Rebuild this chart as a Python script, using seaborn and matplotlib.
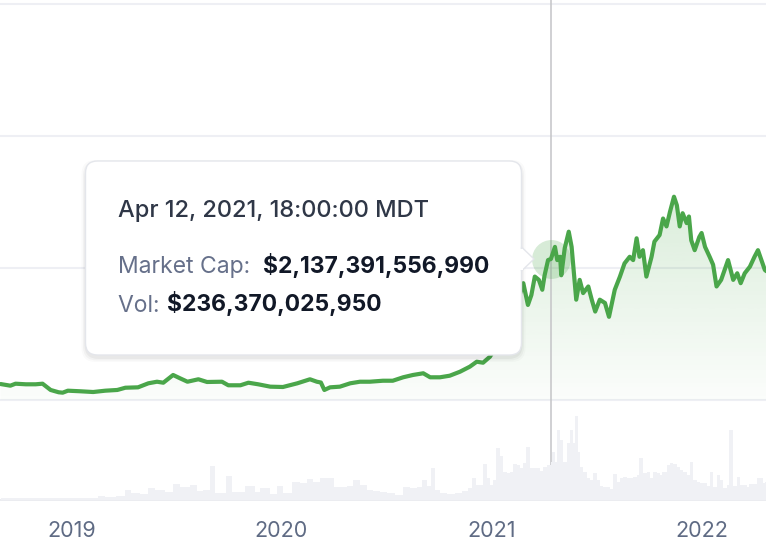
import numpy as np
import pandas as pd
import matplotlib
matplotlib.use("Agg")
import matplotlib.pyplot as plt
import matplotlib.dates as mdates
from matplotlib.patches import FancyBboxPatch, Polygon, Rectangle
import seaborn as sns

# total market cap, trillions of USD
cap_dates = [
    "2018-08-31", "2018-09-17", "2018-09-26", "2018-10-14", "2018-10-31", "2018-11-12", "2018-11-26", "2018-12-10", "2018-12-17", "2018-12-26",
    "2019-01-17", "2019-02-08", "2019-03-01", "2019-03-22", "2019-04-05", "2019-04-27", "2019-05-15", "2019-05-30", "2019-06-10", "2019-06-27",
    "2019-07-09", "2019-07-22", "2019-08-10", "2019-08-25", "2019-09-20", "2019-10-01", "2019-10-22", "2019-11-05", "2019-11-22", "2019-12-13",
    "2020-01-04", "2020-01-29", "2020-02-20", "2020-03-03", "2020-03-10", "2020-03-16", "2020-03-26", "2020-04-12", "2020-04-30", "2020-05-17",
    "2020-06-03", "2020-06-26", "2020-07-13", "2020-07-31", "2020-08-17", "2020-09-04", "2020-09-16", "2020-10-03", "2020-10-20", "2020-11-07",
    "2020-11-24", "2020-12-06", "2020-12-17", "2020-12-29", "2021-01-10", "2021-01-24", "2021-02-05", "2021-02-16", "2021-02-25", "2021-03-05",
    "2021-03-11", "2021-03-17", "2021-03-24", "2021-03-30", "2021-04-03", "2021-04-09", "2021-04-14", "2021-04-21", "2021-04-25", "2021-04-30",
    "2021-05-02", "2021-05-08", "2021-05-15", "2021-05-20", "2021-05-24", "2021-05-28", "2021-06-03", "2021-06-09", "2021-06-18", "2021-06-24",
    "2021-06-30", "2021-07-08", "2021-07-17", "2021-07-24", "2021-08-03", "2021-08-12", "2021-08-20", "2021-08-29", "2021-09-04", "2021-09-10",
    "2021-09-15", "2021-09-21", "2021-09-27", "2021-10-06", "2021-10-11", "2021-10-20", "2021-10-26", "2021-11-01", "2021-11-07", "2021-11-14",
    "2021-11-19", "2021-11-24", "2021-11-29", "2021-12-06", "2021-12-10", "2021-12-14", "2021-12-20", "2021-12-28", "2022-01-01", "2022-01-07",
    "2022-01-15", "2022-01-21", "2022-01-27", "2022-02-04", "2022-02-16", "2022-02-25", "2022-03-04", "2022-03-10", "2022-03-17", "2022-03-26",
    "2022-04-03", "2022-04-09", "2022-04-15", "2022-04-21", "2022-04-24",
]
cap_values = [
    0.242, 0.217, 0.247, 0.238, 0.238, 0.247, 0.152, 0.117, 0.111, 0.141,
    0.132, 0.121, 0.141, 0.152, 0.186, 0.192, 0.253, 0.277, 0.262, 0.379,
    0.329, 0.277, 0.314, 0.273, 0.277, 0.223, 0.223, 0.262, 0.238, 0.202,
    0.197, 0.253, 0.314, 0.277, 0.265, 0.152, 0.192, 0.202, 0.253, 0.277,
    0.277, 0.292, 0.292, 0.344, 0.379, 0.405, 0.344, 0.344, 0.368, 0.429,
    0.505, 0.580, 0.565, 0.656, 0.833, 1.06, 1.33, 1.52, 1.77, 1.44,
    1.59, 1.87, 1.82, 1.67, 1.89, 2.12, 2.137, 2.32, 2.12, 2.17,
    1.89, 2.30, 2.55, 2.32, 1.92, 1.52, 1.82, 1.62, 1.72, 1.52,
    1.34, 1.52, 1.47, 1.26, 1.67, 1.87, 2.07, 2.17, 2.12, 2.45,
    2.17, 2.27, 1.87, 2.17, 2.40, 2.50, 2.75, 2.63, 2.85, 3.08,
    2.95, 2.63, 2.83, 2.68, 2.78, 2.42, 2.27, 2.47, 2.53, 2.32,
    2.17, 2.05, 1.72, 1.82, 2.12, 1.82, 1.92, 1.77, 1.92, 2.02,
    2.17, 2.27, 2.12, 1.97, 1.95,
]

# 24h volume, billions of USD
vol_dates = [
    "2018-08-31", "2018-09-14", "2018-09-28", "2018-10-12", "2018-10-26", "2018-11-09", "2018-11-21", "2018-12-05", "2018-12-17", "2018-12-27",
    "2019-01-10", "2019-01-24", "2019-02-07", "2019-02-17", "2019-03-01", "2019-03-19", "2019-04-05", "2019-04-14", "2019-05-01", "2019-05-15",
    "2019-05-27", "2019-06-13", "2019-06-27", "2019-07-09", "2019-07-27", "2019-08-08", "2019-08-18", "2019-08-31", "2019-09-08", "2019-09-27",
    "2019-10-08", "2019-10-30", "2019-11-17", "2019-11-25", "2019-12-13", "2019-12-25", "2020-01-04", "2020-01-20", "2020-02-03", "2020-02-15",
    "2020-02-25", "2020-03-09", "2020-03-21", "2020-04-01", "2020-04-12", "2020-04-24", "2020-05-05", "2020-05-17", "2020-05-29", "2020-06-09",
    "2020-06-21", "2020-07-03", "2020-07-17", "2020-07-31", "2020-08-12", "2020-08-24", "2020-09-02", "2020-09-11", "2020-09-18", "2020-09-25",
    "2020-10-03", "2020-10-15", "2020-10-29", "2020-11-10", "2020-11-21", "2020-11-28", "2020-12-05", "2020-12-12", "2020-12-17", "2020-12-24",
    "2020-12-29", "2021-01-03", "2021-01-08", "2021-01-15", "2021-01-20", "2021-01-27", "2021-02-02", "2021-02-07", "2021-02-14", "2021-02-19",
    "2021-02-24", "2021-03-01", "2021-03-08", "2021-03-13", "2021-03-20", "2021-03-25", "2021-03-31", "2021-04-07", "2021-04-14", "2021-04-16",
    "2021-04-21", "2021-04-24", "2021-04-29", "2021-05-05", "2021-05-12", "2021-05-17", "2021-05-22", "2021-05-26", "2021-05-31", "2021-06-03",
    "2021-06-08", "2021-06-15", "2021-06-21", "2021-06-26", "2021-07-03", "2021-07-08", "2021-07-13", "2021-07-20", "2021-07-25", "2021-07-31",
    "2021-08-06", "2021-08-12", "2021-08-17", "2021-08-24", "2021-08-29", "2021-09-03", "2021-09-10", "2021-09-14", "2021-09-21", "2021-09-28",
    "2021-10-03", "2021-10-08", "2021-10-15", "2021-10-20", "2021-10-25", "2021-11-01", "2021-11-07", "2021-11-12", "2021-11-19", "2021-11-24",
    "2021-11-29", "2021-12-06", "2021-12-11", "2021-12-16", "2021-12-23", "2021-12-29", "2022-01-03", "2022-01-10", "2022-01-15", "2022-01-20",
    "2022-01-27", "2022-02-02", "2022-02-07", "2022-02-14", "2022-02-17", "2022-02-24", "2022-03-03", "2022-03-08", "2022-03-13", "2022-03-20",
    "2022-03-25", "2022-03-31", "2022-04-07", "2022-04-12", "2022-04-17", "2022-04-22",
]
vol_values = [
    12, 12, 15, 12, 12, 12, 14, 12, 12, 14,
    12, 12, 15, 25, 20, 27, 62, 43, 37, 74,
    62, 51, 99, 81, 93, 58, 62, 211, 43, 149,
    51, 87, 51, 73, 35, 87, 45, 113, 104, 132,
    113, 136, 135, 82, 79, 87, 124, 93, 62, 58,
    51, 45, 31, 82, 73, 79, 124, 87, 197, 62,
    42, 37, 45, 58, 73, 135, 93, 93, 223, 135,
    93, 124, 321, 273, 175, 169, 175, 223, 217, 197,
    228, 330, 197, 197, 197, 182, 206, 217, 236, 299,
    237, 434, 372, 237, 352, 434, 352, 521, 299, 206,
    175, 135, 124, 169, 124, 87, 82, 79, 66, 161,
    113, 135, 144, 135, 135, 144, 155, 259, 169, 175,
    135, 175, 166, 155, 175, 217, 228, 223, 206, 186,
    175, 155, 237, 124, 113, 107, 104, 87, 175, 79,
    155, 124, 73, 93, 434, 87, 144, 93, 93, 82,
    99, 99, 135, 135, 107, 113,
]

year_ticks = ["2019-01-01", "2020-01-01", "2021-01-01", "2022-01-01"]
year_labels = ["2019", "2020", "2021", "2022"]

hover_date = "2021-04-14"
hover_cap = 2.137391556990
hover_title = "Apr 12, 2021, 18:00:00 MDT"
hover_cap_label = "Market Cap: "
hover_cap_text = "$2,137,391,556,990"
hover_vol_label = "Vol: "
hover_vol_text = "$236,370,025,950"

GREEN = "#4aa64a"
GRID = "#eeeff4"
VOLC = "#f0f1f5"

sns.set_theme(style="white")
plt.rcParams["font.family"] = ["Inter", "DejaVu Sans"]

cap = pd.DataFrame({"date": pd.to_datetime(cap_dates), "cap": cap_values})
vol = pd.DataFrame({"date": pd.to_datetime(vol_dates), "vol": vol_values})

fig = plt.figure(figsize=(7.66, 5.52), dpi=100)
ax = fig.add_axes([0, 52 / 552, 1, 500 / 552])
ax.set_facecolor("white")

x0, x1 = pd.Timestamp("2018-08-30"), pd.Timestamp("2022-04-23")

# gradient under the line
poly = ax.fill_between(cap["date"], cap["cap"], 0, facecolor="none", edgecolor="none")
grad = np.zeros((256, 1, 4))
grad[..., :3] = matplotlib.colors.to_rgb(GREEN)
grad[..., 3] = np.linspace(0.02, 0.21, 256).reshape(-1, 1)
img = ax.imshow(grad, extent=[mdates.date2num(x0), mdates.date2num(x1), 0, 3.2],
                origin="lower", aspect="auto", zorder=1, interpolation="bilinear")
img.set_clip_path(poly.get_paths()[0], transform=ax.transData)

ax.axvline(pd.Timestamp(hover_date), color="#c4c4c7", lw=1.1, zorder=2)
ax.plot([pd.Timestamp(hover_date)], [hover_cap], "o", ms=28, color=GREEN,
        alpha=0.22, mec="none", zorder=3)
sns.lineplot(data=cap, x="date", y="cap", color=GREEN, linewidth=3.0, ax=ax, zorder=4)

ax.set_xlim(x0, x1)
ax.set_ylim(-100 / 66, 400 / 66)
ax.set_yticks([0, 2, 4, 6])
ax.grid(axis="y", color=GRID, lw=1.5)
ax.grid(axis="x", visible=False)
ax.set_xlabel("")
ax.set_ylabel("")
for s in ["top", "left", "right"]:
    ax.spines[s].set_visible(False)
ax.spines["bottom"].set_color("#e8e9ee")
ax.spines["bottom"].set_linewidth(1.2)
ax.set_xticks(pd.to_datetime(year_ticks))
ax.set_xticklabels(year_labels)
ax.tick_params(axis="x", length=10, width=1.3, color="#e3e5ea", labelsize=15.5,
               labelcolor="#5f6b84", pad=5)
ax.tick_params(axis="y", length=0, labelleft=False)

# volume bars on their own scale
ax2 = ax.twinx()
vx = mdates.date2num(vol["date"])
widths = np.append(np.diff(vx), 5.0) + 0.2
ax2.bar(vx, vol["vol"], width=widths, align="edge", color=VOLC, linewidth=0)
ax2.set_ylim(0, 500 * 6.2)
ax2.set_xlim(x0, x1)
ax2.axis("off")

# tooltip
ov = fig.add_axes([0, 0, 1, 1])
ov.set_xlim(0, 766)
ov.set_ylim(552, 0)
ov.axis("off")
ov.patch.set_visible(False)
for s, a in [(8, 0.02), (5, 0.03), (2, 0.04)]:
    ov.add_patch(FancyBboxPatch((85.5 - s / 2, 161 - s / 2 + 3), 436 + s, 194 + s,
                                boxstyle="round,pad=0,rounding_size=14",
                                facecolor="black", edgecolor="none", alpha=a, zorder=1))
ov.add_patch(FancyBboxPatch((85.5, 161), 436, 194, boxstyle="round,pad=0,rounding_size=12",
                            facecolor="white", edgecolor="#e4e6eb", lw=1, zorder=2))
ov.add_patch(Polygon([(521.5, 247), (534, 259), (521.5, 271)], closed=True,
                     facecolor="white", edgecolor="#e4e6eb", lw=1, zorder=3))
ov.add_patch(Rectangle((518, 248.5), 4.5, 21, facecolor="white", edgecolor="none", zorder=4))

ov.text(118, 217.5, hover_title, fontsize=17, color="#2f3747", fontweight="medium",
        va="baseline", zorder=5)
ov.text(118, 273, hover_cap_label, fontsize=16.5, color="#66708a", va="baseline", zorder=5)
ov.text(263, 273, hover_cap_text, fontsize=16.5, color="#111827", fontweight="bold",
        va="baseline", zorder=5)
ov.text(118, 311.5, hover_vol_label, fontsize=16.5, color="#66708a", va="baseline", zorder=5)
ov.text(167, 311.5, hover_vol_text, fontsize=16.5, color="#111827", fontweight="bold",
        va="baseline", zorder=5)

fig.savefig("out.png", dpi=100)
